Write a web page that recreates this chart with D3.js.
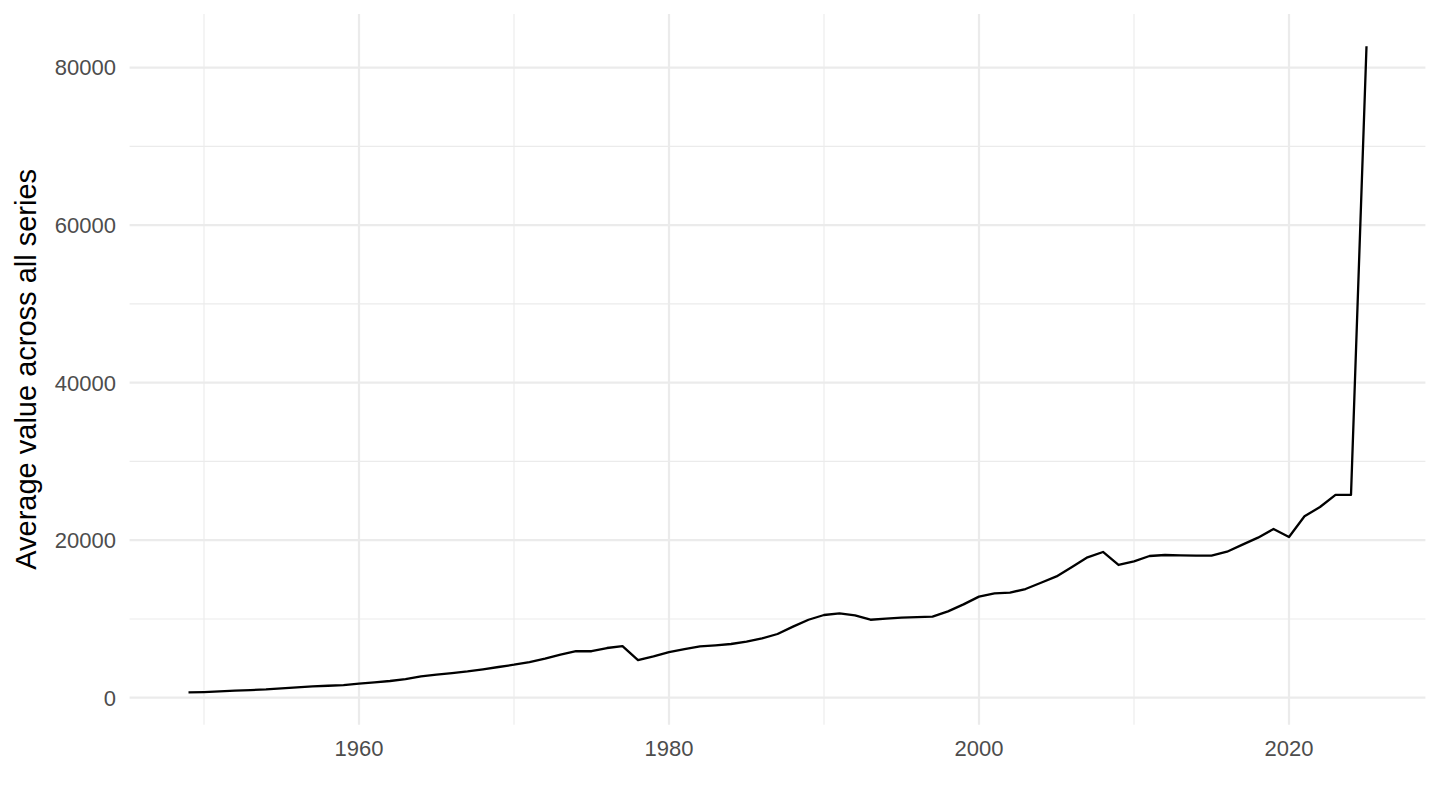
<!DOCTYPE html>
<html>
<head>
<meta charset="utf-8">
<script src="https://cdn.jsdelivr.net/npm/d3@7"></script>
<style>
  html, body { margin: 0; padding: 0; background: #fff; }
  svg { display: block; }
</style>
</head>
<body>
<svg id="chart" width="1440" height="810"></svg>
<script>
const years = [1949,1950,1951,1952,1953,1954,1955,1956,1957,1958,1959,
  1960,1961,1962,1963,1964,1965,1966,1967,1968,1969,
  1970,1971,1972,1973,1974,1975,1976,1977,1978,1979,
  1980,1981,1982,1983,1984,1985,1986,1987,1988,1989,
  1990,1991,1992,1993,1994,1995,1996,1997,1998,1999,
  2000,2001,2002,2003,2004,2005,2006,2007,2008,2009,
  2010,2011,2012,2013,2014,2015,2016,2017,2018,2019,
  2020,2021,2022,2023,2024,2025];
const values = [675,720,800,890,970,1050,1180,1310,1440,1520,1610,
  1780,1950,2120,2370,2710,2920,3130,3340,3600,3900,
  4190,4530,4950,5460,5900,5900,6310,6560,4780,5250,
  5800,6180,6520,6650,6820,7110,7530,8090,9020,9900,
  10500,10710,10450,9900,10030,10160,10240,10290,10960,11850,
  12830,13250,13330,13800,14600,15400,16600,17820,18500,16850,
  17310,17990,18120,18080,18030,18030,18540,19430,20320,21420,
  20410,23030,24210,25740,25740,82700];
const xMajor = [1960,1980,2000,2020];
const xMinor = [1950,1970,1990,2010];
const yMajor = [0,20000,40000,60000,80000];
const yMinor = [10000,30000,50000,70000];
const yTitle = "Average value across all series";

const data = years.map((y,i)=>({year:y, value:values[i]}));
const svg = d3.select("#chart");
const panel = {left:129.6, right:1425.4, top:14, bottom:724.7};

const xExt = d3.extent(years), xPad = (xExt[1]-xExt[0])*0.05;
const yExt = d3.extent(values), yPad = (yExt[1]-yExt[0])*0.05;
const x = d3.scaleLinear().domain([xExt[0]-xPad, xExt[1]+xPad]).range([panel.left, panel.right]);
const y = d3.scaleLinear().domain([yExt[0]-yPad, yExt[1]+yPad]).range([panel.bottom, panel.top]);

const grid = svg.append("g");
grid.selectAll(".xminor").data(xMinor).join("line")
  .attr("x1",d=>x(d)).attr("x2",d=>x(d)).attr("y1",panel.top).attr("y2",panel.bottom)
  .attr("stroke","#EBEBEB").attr("stroke-width",1.1);
grid.selectAll(".yminor").data(yMinor).join("line")
  .attr("y1",d=>y(d)).attr("y2",d=>y(d)).attr("x1",panel.left).attr("x2",panel.right)
  .attr("stroke","#EBEBEB").attr("stroke-width",1.1);
grid.selectAll(".xmajor").data(xMajor).join("line")
  .attr("x1",d=>x(d)).attr("x2",d=>x(d)).attr("y1",panel.top).attr("y2",panel.bottom)
  .attr("stroke","#EBEBEB").attr("stroke-width",2.2);
grid.selectAll(".ymajor").data(yMajor).join("line")
  .attr("y1",d=>y(d)).attr("y2",d=>y(d)).attr("x1",panel.left).attr("x2",panel.right)
  .attr("stroke","#EBEBEB").attr("stroke-width",2.2);

const font = "'Liberation Sans', Arial, sans-serif";
svg.append("g").selectAll("text").data(xMajor).join("text")
  .attr("x",d=>x(d)).attr("y",756)
  .attr("text-anchor","middle").attr("font-family",font).attr("font-size",22)
  .attr("fill","#4D4D4D").text(d=>d);
svg.append("g").selectAll("text").data(yMajor).join("text")
  .attr("x",116).attr("y",d=>y(d)).attr("dy","0.36em")
  .attr("text-anchor","end").attr("font-family",font).attr("font-size",22)
  .attr("fill","#4D4D4D").text(d=>d);

svg.append("text")
  .attr("transform",`translate(35.5,${(panel.top+panel.bottom)/2}) rotate(-90)`)
  .attr("text-anchor","middle").attr("font-family",font).attr("font-size",29)
  .attr("fill","#000").text(yTitle);

const line = d3.line().x(d=>x(d.year)).y(d=>y(d.value));
svg.append("path").datum(data).attr("d",line)
  .attr("fill","none").attr("stroke","#000").attr("stroke-width",2.3)
  .attr("stroke-linejoin","round");
</script>
</body>
</html>
